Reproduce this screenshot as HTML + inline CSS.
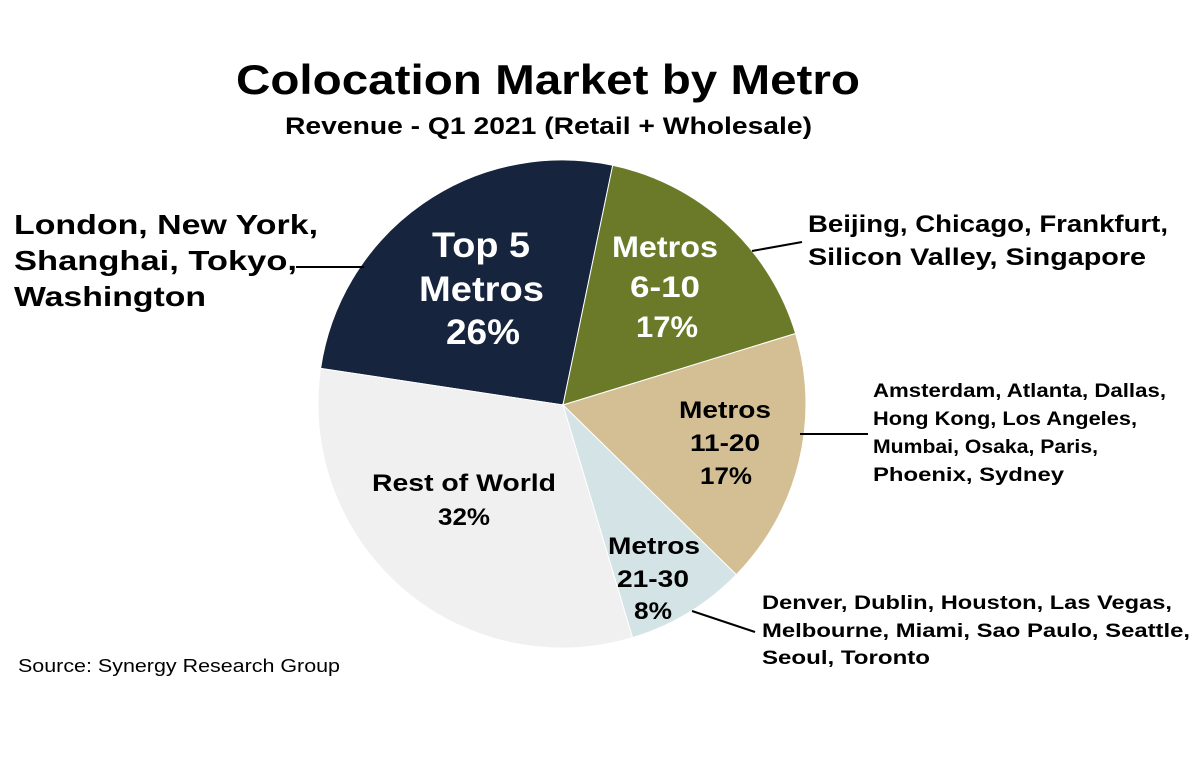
<!DOCTYPE html>
<html><head><meta charset="utf-8"><style>
html,body{margin:0;padding:0;background:#fff;}
svg{display:block;font-family:"Liberation Sans",Arial,sans-serif;}
</style></head><body>
<svg width="1200" height="768" viewBox="0 0 1200 768" xmlns="http://www.w3.org/2000/svg">
<rect width="1200" height="768" fill="#fff"/>
<text x="236" y="94" font-size="42" font-weight="bold" textLength="624" lengthAdjust="spacingAndGlyphs" fill="#000">Colocation Market by Metro</text>
<text x="285" y="134" font-size="24" font-weight="bold" textLength="527" lengthAdjust="spacingAndGlyphs" fill="#000">Revenue - Q1 2021 (Retail + Wholesale)</text>
<g stroke="#fff" stroke-width="1">
<path d="M563,405 L320.6,368.4 A244,244 0 0 1 612.7,165.3 Z" fill="#16243e"/>
<path d="M563,405 L612.7,165.3 A244,244 0 0 1 795.6,333.5 Z" fill="#6b7a28"/>
<path d="M563,405 L795.6,333.5 A244,244 0 0 1 736.3,574.7 Z" fill="#d4bf95"/>
<path d="M563,405 L736.3,574.7 A244,244 0 0 1 632.5,637.6 Z" fill="#d3e3e6"/>
<path d="M563,405 L632.5,637.6 A244,244 0 0 1 320.6,368.4 Z" fill="#f0f0f0"/>
</g>
<g font-weight="bold" lengthAdjust="spacingAndGlyphs">
<g font-size="35" fill="#fff">
<text x="432" y="257" textLength="98" lengthAdjust="spacingAndGlyphs">Top 5</text>
<text x="419" y="301" textLength="125" lengthAdjust="spacingAndGlyphs">Metros</text>
<text x="446" y="344" textLength="74" lengthAdjust="spacingAndGlyphs">26%</text>
</g>
<g font-size="30" fill="#fff">
<text x="612" y="257" textLength="106" lengthAdjust="spacingAndGlyphs">Metros</text>
<text x="630" y="297" textLength="70" lengthAdjust="spacingAndGlyphs">6-10</text>
<text x="636" y="337" textLength="62" lengthAdjust="spacingAndGlyphs">17%</text>
</g>
<g font-size="24" fill="#000">
<text x="679" y="418" textLength="92" lengthAdjust="spacingAndGlyphs">Metros</text>
<text x="690" y="451" textLength="70" lengthAdjust="spacingAndGlyphs">11-20</text>
<text x="700" y="484" textLength="52" lengthAdjust="spacingAndGlyphs">17%</text>
<text x="608" y="554" textLength="92" lengthAdjust="spacingAndGlyphs">Metros</text>
<text x="617" y="587" textLength="72" lengthAdjust="spacingAndGlyphs">21-30</text>
<text x="634" y="619" textLength="38" lengthAdjust="spacingAndGlyphs">8%</text>
<text x="372" y="491" textLength="184" lengthAdjust="spacingAndGlyphs">Rest of World</text>
<text x="438" y="525" textLength="52" lengthAdjust="spacingAndGlyphs">32%</text>
</g>
</g>
<g stroke="#000" stroke-width="2" fill="none">
<line x1="296" y1="267" x2="364" y2="267"/>
<line x1="752" y1="251" x2="802" y2="242"/>
<line x1="800" y1="434" x2="868" y2="434"/>
<line x1="692" y1="611" x2="755" y2="632"/>
</g>
<g font-weight="bold" fill="#000">
<g font-size="28">
<text x="14" y="234" textLength="304" lengthAdjust="spacingAndGlyphs">London, New York,</text>
<text x="14" y="270" textLength="283" lengthAdjust="spacingAndGlyphs">Shanghai, Tokyo,</text>
<text x="14" y="306" textLength="192" lengthAdjust="spacingAndGlyphs">Washington</text>
</g>
<g font-size="24">
<text x="808" y="232" textLength="360" lengthAdjust="spacingAndGlyphs">Beijing, Chicago, Frankfurt,</text>
<text x="808" y="265" textLength="338" lengthAdjust="spacingAndGlyphs">Silicon Valley, Singapore</text>
</g>
<g font-size="19">
<text x="873" y="397" textLength="293" lengthAdjust="spacingAndGlyphs">Amsterdam, Atlanta, Dallas,</text>
<text x="873" y="425" textLength="264" lengthAdjust="spacingAndGlyphs">Hong Kong, Los Angeles,</text>
<text x="873" y="453" textLength="225" lengthAdjust="spacingAndGlyphs">Mumbai, Osaka, Paris,</text>
<text x="873" y="481" textLength="191" lengthAdjust="spacingAndGlyphs">Phoenix, Sydney</text>
<text x="762" y="609" textLength="410" lengthAdjust="spacingAndGlyphs">Denver, Dublin, Houston, Las Vegas,</text>
<text x="762" y="637" textLength="428" lengthAdjust="spacingAndGlyphs">Melbourne, Miami, Sao Paulo, Seattle,</text>
<text x="762" y="664" textLength="168" lengthAdjust="spacingAndGlyphs">Seoul, Toronto</text>
</g>
</g>
<text x="18" y="672" font-size="18" fill="#000" textLength="322" lengthAdjust="spacingAndGlyphs">Source: Synergy Research Group</text>
</svg>
</body></html>
